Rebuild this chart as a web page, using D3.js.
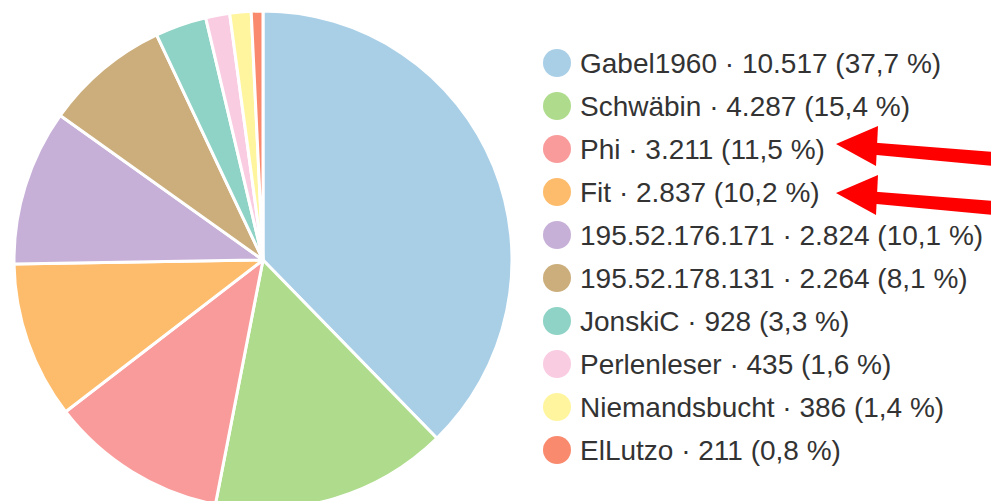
<!DOCTYPE html>
<html>
<head>
<meta charset="utf-8">
<script src="https://cdn.jsdelivr.net/npm/d3@7/dist/d3.min.js"></script>
<style>
  body { margin: 0; background: #fff; }
  text { font-family: "Liberation Sans", Arial, sans-serif; }
</style>
</head>
<body>
<div id="chart"></div>
<script>
const WIDTH = 991
const HEIGHT = 501

// data
const names = ["Gabel1960", "Schwäbin", "Phi", "Fit", "195.52.176.171", "195.52.178.131",
               "JonskiC", "Perlenleser", "Niemandsbucht", "ElLutzo"]
const edits = [10517, 4287, 3211, 2837, 2824, 2264, 928, 435, 386, 211]
const colors = ["#a9cfe7", "#afdc8c", "#f99b9b", "#fdbc6c", "#c7b0d7", "#cbae7c",
                "#8ed3c5", "#f9cce2", "#fff59e", "#f98a6e"]
// legend entries that get a red arrow
const marked = ["Phi", "Fit"]

const data = names.map((n, i) => ({ name: n, value: edits[i], color: colors[i] }))
const total = d3.sum(edits)

const de = d3.formatLocale({ decimal: ",", thousands: ".", grouping: [3], currency: ["", " €"] })
const fmtInt = de.format(",d")
const fmtPct = de.format(".1f")

const svg = d3.select("#chart").append("svg")
    .attr("width", WIDTH)
    .attr("height", HEIGHT)

// pie
const CX = 263, CY = 260, R = 249
const pie = d3.pie().value(d => d.value).sort(null)
const arc = d3.arc().innerRadius(0).outerRadius(R)

svg.append("g")
    .attr("transform", `translate(${CX}, ${CY})`)
  .selectAll("path")
  .data(pie(data))
  .enter().append("path")
    .attr("d", arc)
    .attr("fill", d => d.data.color)
    .attr("stroke", "#fff")
    .attr("stroke-width", 3)
    .attr("stroke-linejoin", "round")

// legend
const y = d3.scalePoint()
    .domain(names)
    .range([63, 450])

const legend = svg.append("g")
  .selectAll("g")
  .data(data)
  .enter().append("g")
    .attr("transform", d => `translate(557, ${y(d.name)})`)

legend.append("circle")
    .attr("r", 14)
    .attr("fill", d => d.color)

legend.append("text")
    .attr("x", 23)
    .attr("dy", "0.36em")
    .attr("font-size", 28)
    .attr("fill", "#333")
    .text(d => `${d.name} · ${fmtInt(d.value)} (${fmtPct(d.value / total * 100)} %)`)

// red arrows pointing at the marked entries
const arrow = d3.line()
marked.forEach((m, i) => {
    const ty = y(m) - 5 + i * 6
    const tx = 836
    const g = svg.append("g").attr("fill", "#f00")
    // head
    g.append("path")
        .attr("d", arrow([[tx, ty], [tx + 42, ty - 18], [tx + 40, ty + 22]]) + "Z")
    // shaft
    g.append("path")
        .attr("d", arrow([[tx + 30, ty - 2], [WIDTH + 2, ty + 8], [WIDTH + 2, ty + 22], [tx + 30, ty + 10]]) + "Z")
})
</script>
</body>
</html>
